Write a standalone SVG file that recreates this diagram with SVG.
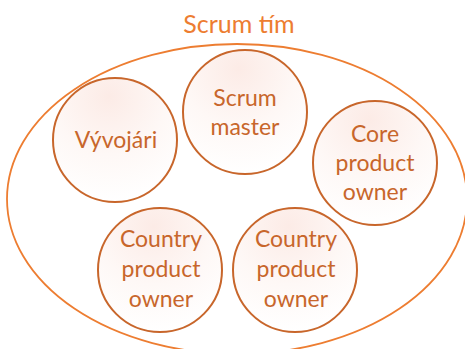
<svg xmlns="http://www.w3.org/2000/svg" width="465" height="349" viewBox="0 0 465 349">
<defs>
<radialGradient id="g" cx="0.45" cy="0.15" r="0.85">
<stop offset="0" stop-color="#fcebe6"/>
<stop offset="0.55" stop-color="#fef8f6"/>
<stop offset="1" stop-color="#ffffff"/>
</radialGradient>
<style>
.c{fill:url(#g);stroke:#c8662b;stroke-width:2}
.t{font-family:Lato,"Open Sans",sans-serif;font-size:23px;fill:#c8662b;text-anchor:middle}
</style>
</defs>
<rect width="465" height="349" fill="#fff"/>
<g id="team">
<ellipse cx="237" cy="199" rx="230" ry="155" fill="none" stroke="#ed7d31" stroke-width="1.8"/>
<text x="239" y="33" font-family="Lato,'Open Sans',sans-serif" font-size="25" fill="#ed7d31" text-anchor="middle">Scrum tím</text>
</g>
<g id="connectors"></g>
<g id="vyvojari">
<circle class="c" cx="115" cy="140" r="62"/>
<text class="t" x="116" y="148">Vývojári</text>
</g>
<g id="scrum-master">
<circle class="c" cx="245" cy="112" r="62"/>
<text class="t" x="245" y="106">Scrum</text>
<text class="t" x="245" y="135">master</text>
</g>
<g id="core-po">
<circle class="c" cx="375" cy="163" r="62"/>
<text class="t" x="375" y="142">Core</text>
<text class="t" x="375" y="171">product</text>
<text class="t" x="375" y="200">owner</text>
</g>
<g id="country-po-1">
<circle class="c" cx="160" cy="270" r="62"/>
<text class="t" x="161" y="247">Country</text>
<text class="t" x="161" y="277">product</text>
<text class="t" x="161" y="307">owner</text>
</g>
<g id="country-po-2">
<circle class="c" cx="295" cy="270" r="62"/>
<text class="t" x="296" y="247">Country</text>
<text class="t" x="296" y="277">product</text>
<text class="t" x="296" y="307">owner</text>
</g>
</svg>
